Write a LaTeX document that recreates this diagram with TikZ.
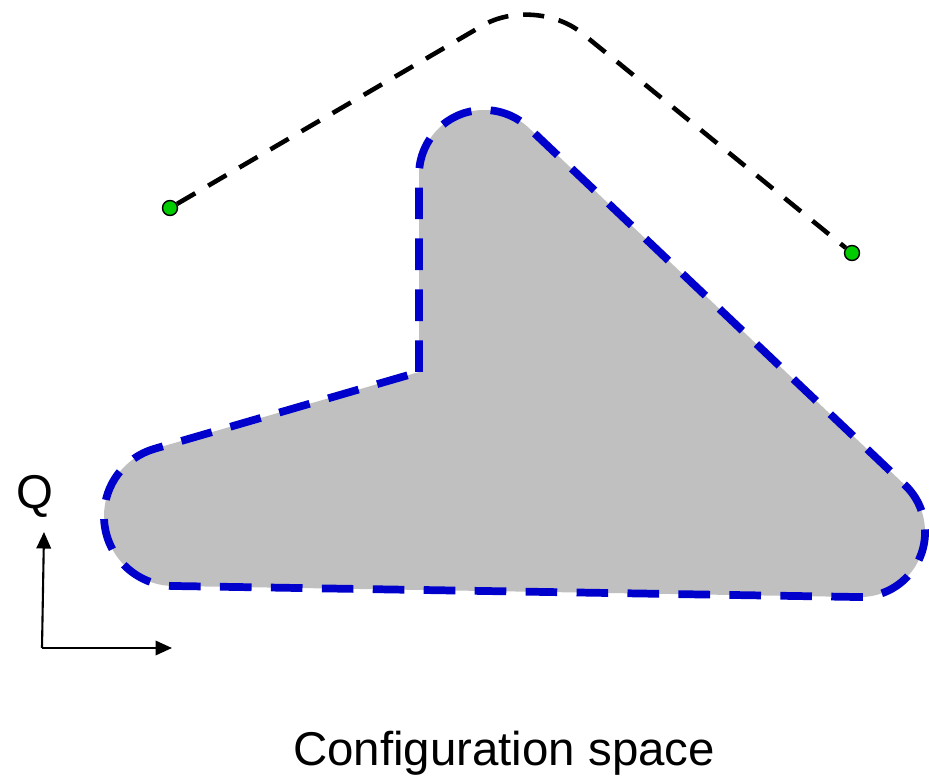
\documentclass[tikz,border=0pt]{standalone}
\usepackage{fontspec}
\setmainfont{Liberation Sans}
\definecolor{ObstacleGray}{HTML}{C0C0C0}
\definecolor{BorderBlue}{HTML}{0000CC}
\definecolor{PointGreen}{HTML}{00CC00}
\usetikzlibrary{arrows.meta}

\begin{document}
\begin{tikzpicture}[x=0.02cm, y=-0.02cm,
    obstacle/.style={fill=ObstacleGray, draw=BorderBlue, line width=4.4pt, dash pattern=on 18pt off 11pt},
    route/.style={draw=black, line width=2.6pt, dash pattern=on 12pt off 8.5pt, rounded corners=1.2cm},
    endpoint/.style={circle, draw=black, fill=PointGreen, line width=0.8pt, inner sep=0pt, minimum size=0.3cm},
    axis/.style={line width=1.2pt, -{Triangle[length=0.33cm, width=0.29cm]}},
    bigtext/.style={font=\fontsize{27}{32}\selectfont, inner sep=0pt, anchor=base}]
  \useasboundingbox (0,0) rectangle (929,776);
  % obstacle region
  \path[obstacle] (419,372) -- (419,175) arc[start angle=180, end angle=313.5, radius=65]
    -- (904.8,484.9) arc[start angle=-46.5, end angle=90, radius=65]
    -- (174,586) arc[start angle=90, end angle=253.9, radius=70] -- cycle;
  % path between the two configurations
  \node[endpoint] (start) at (170,208) {};
  \node[endpoint] (goal) at (852,253) {};
  \coordinate (apex) at (535,-5);
  \draw[route] (start) -- (apex) -- (goal);
  % axes
  \coordinate (origin) at (42,648);
  \coordinate (qtip) at (44,532);
  \coordinate (ptip) at (172,648);
  \draw[axis] (origin) -- (qtip);
  \draw[axis] (origin) -- (ptip);
  \node[bigtext] (qlabel) at (35,508) {Q};
  \node[bigtext] (caption) at (504,765) {Configuration space};
\end{tikzpicture}
\end{document}
